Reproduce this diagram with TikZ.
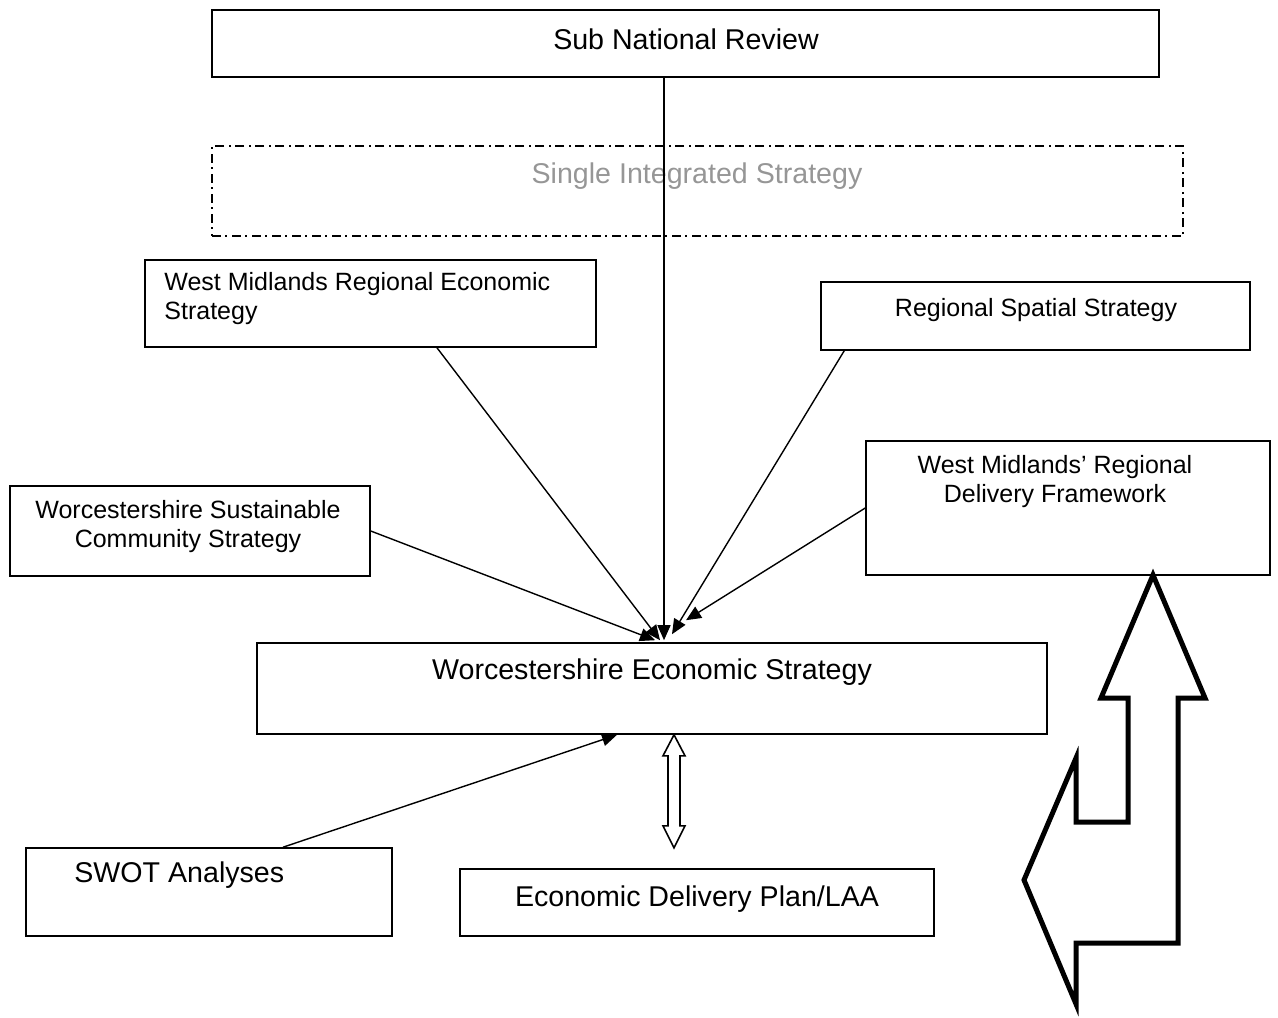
\documentclass[tikz,border=0pt]{standalone}
\usepackage{fontspec}
\setmainfont{Liberation Sans}
\usetikzlibrary{arrows.meta}
\definecolor{faint}{RGB}{150,150,150}
\newcommand{\bigtxt}{\fontsize{14.3}{17}\selectfont}
\newcommand{\smalltxt}{\fontsize{12.5}{14.5}\selectfont}
\begin{document}
\begin{tikzpicture}[x=0.5pt,y=-0.5pt,
 box/.style={draw,line width=0.8pt,inner sep=0pt},
 dashbox/.style={draw,line width=1pt,dash pattern=on 4.5pt off 2pt on 1pt off 2.5pt,inner sep=0pt},
 txt/.style={inner sep=0pt,font=\smalltxt,align=center},
 feed/.style={line width=0.7pt,-{Triangle[length=7.5pt,width=6.5pt]}},
 block/.style={draw,line width=0.8pt,line join=miter},
 bigblock/.style={draw,line width=2.5pt,line join=miter}]
 \useasboundingbox (0,0) rectangle (1278,1017);
 % boxes
 \node[box,minimum width=473.5pt,minimum height=33.5pt] (snr) at (685.5,43.5) {};
 \node[dashbox,minimum width=485.5pt,minimum height=45pt] (sis) at (697.5,191) {};
 \node[box,minimum width=225.5pt,minimum height=43.5pt] (wmres) at (370.5,303.5) {};
 \node[box,minimum width=214.5pt,minimum height=34pt] (rss) at (1035.5,316) {};
 \node[box,minimum width=180pt,minimum height=45pt] (wscs) at (190,531) {};
 \node[box,minimum width=202pt,minimum height=67pt] (wmrdf) at (1068,508) {};
 \node[box,minimum width=395pt,minimum height=45.5pt] (wes) at (652,688.5) {};
 \node[box,minimum width=183pt,minimum height=44pt] (swot) at (209,892) {};
 \node[box,minimum width=237pt,minimum height=33.5pt] (edp) at (697,902.5) {};
 % texts
 \node[txt,font=\bigtxt] (snrT) at (686,39) {Sub National Review};
 \node[txt,font=\bigtxt,text=faint] (sisT) at (697,176) {Single Integrated Strategy};
 \node[txt,align=left,anchor=west] (wmresT) at (164,299) {West Midlands Regional Economic\\Strategy};
 \node[txt] (rssT) at (1036,310) {Regional Spatial Strategy};
 \node[txt] (wscsT) at (188,527) {Worcestershire Sustainable\\Community Strategy};
 \node[txt] (wmrdfT) at (1055,482) {West Midlands’ Regional\\Delivery Framework};
 \node[txt,font=\bigtxt] (wesT) at (652,672) {Worcestershire Economic Strategy};
 \node[txt,font=\bigtxt,anchor=west] (swotT) at (74,875) {SWOT Analyses};
 \node[txt,font=\bigtxt] (edpT) at (697,899) {Economic Delivery Plan/LAA};
 % connectors
 \draw[feed] ([xshift=-10.75pt]snr.south) -- ([xshift=6pt,yshift=1pt]wes.north);
 \draw[feed] ([xshift=33.25pt]wmres.south) -- ([xshift=4pt,yshift=1pt]wes.north);
 \draw[feed] (wscs.east) -- ([xshift=1.5pt,yshift=1pt]wes.north);
 \draw[feed] ([xshift=12pt]rss.south west) -- ([xshift=10pt,yshift=4pt]wes.north);
 \draw[feed] (wmrdf.west) -- ([xshift=17pt,yshift=11pt]wes.north);
 \draw[feed] ([xshift=37pt]swot.north) -- ([xshift=-17.5pt]wes.south);
 \draw[block] ([xshift=11pt]wes.south) -- ++(11,21) -- ++(-5,0) -- ++(0,70) -- ++(5,0)
  -- ++(-11,22) -- ++(-11,-22) -- ++(5,0) -- ++(0,-70) -- ++(-5,0) -- cycle;
 % bent arrow
 \draw[bigblock] (1153,575) -- (1205,698) -- (1178,698) -- (1178,943) -- (1076,943)
  -- (1076,1004) -- (1024,880) -- (1076,758) -- (1076,822) -- (1128,822)
  -- (1128,698) -- (1101,698) -- cycle;
\end{tikzpicture}
\end{document}
